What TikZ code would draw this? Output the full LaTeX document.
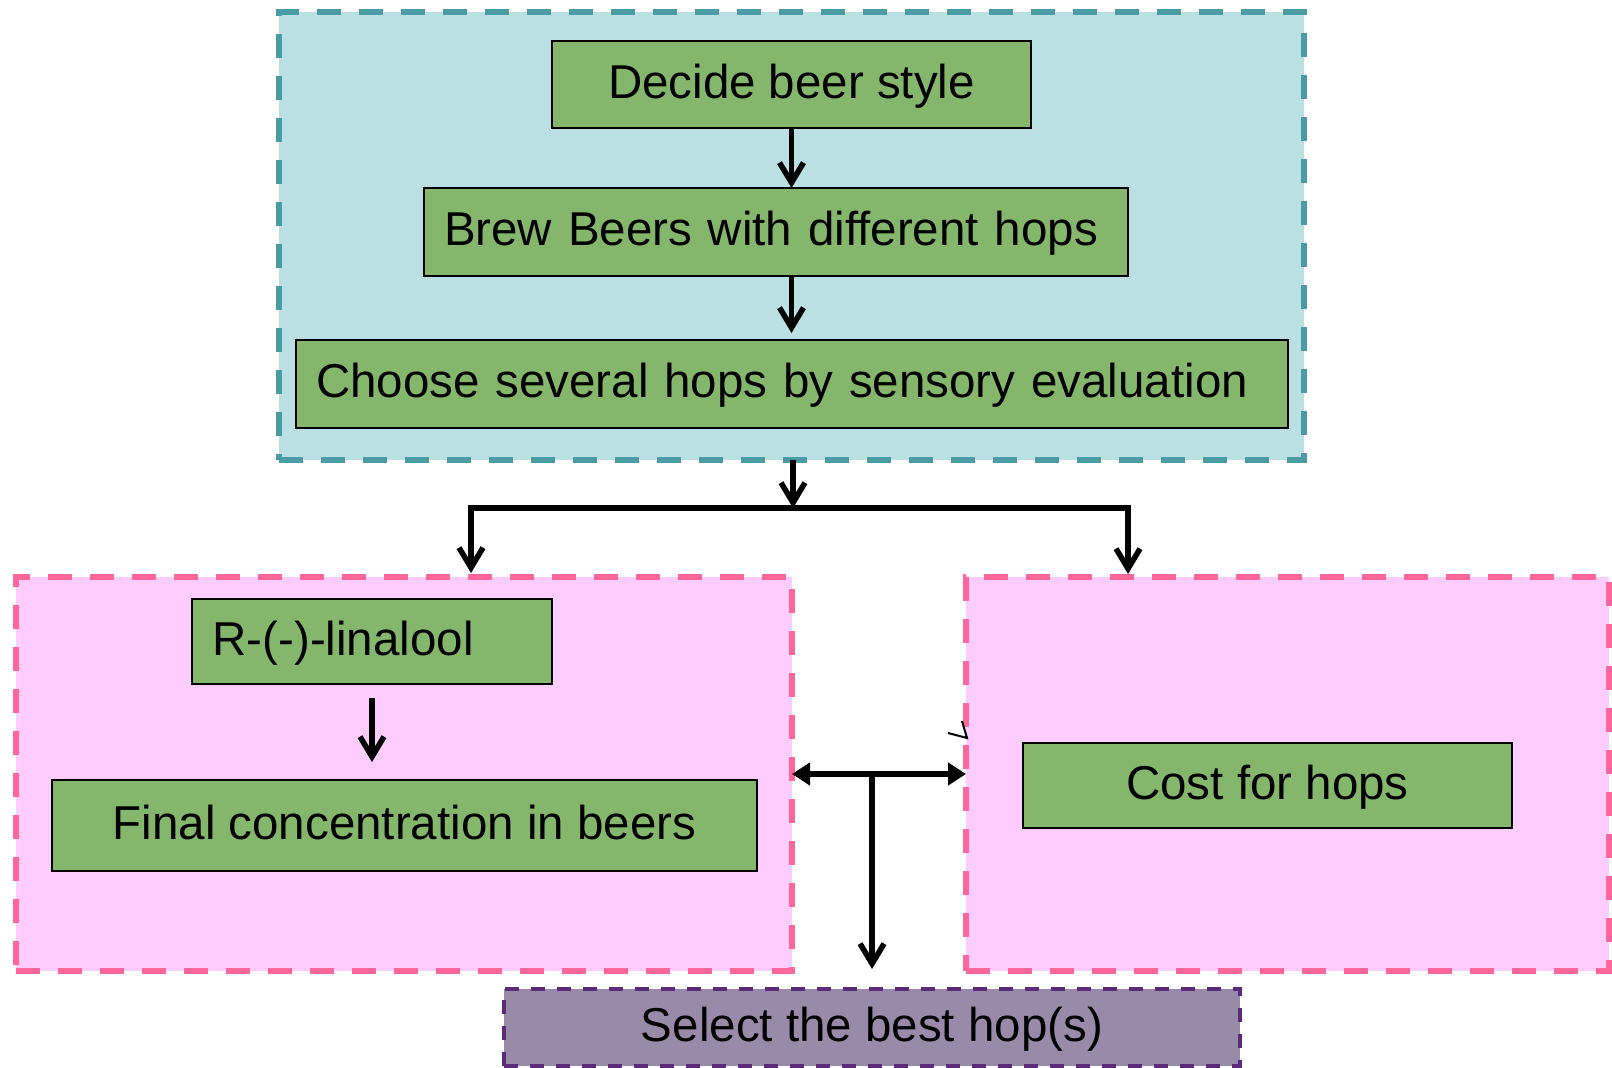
\documentclass[tikz,border=0pt]{standalone}
\usepackage{fontspec}
\setmainfont{Liberation Sans}
\usetikzlibrary{arrows.meta,calc}
\definecolor{tealfill}{HTML}{BAE0E3}
\definecolor{tealline}{HTML}{4A9BA3}
\definecolor{pinkfill}{HTML}{FFCCFF}
\definecolor{pinkline}{HTML}{FF6699}
\definecolor{boxgreen}{HTML}{84B76B}
\definecolor{purfill}{HTML}{998AAA}
\definecolor{purline}{HTML}{5B2A78}
\begin{document}
\begin{tikzpicture}[x=1pt,y=-1pt,
  txt/.style={font=\fontsize{47.5}{57}\selectfont, text height=35pt, text depth=8pt},
  greenbox/.style={txt, draw=black, line width=2pt, fill=boxgreen, inner sep=0pt, outer sep=0pt},
  leftbox/.style={greenbox, align=left, text width=#1},
  teal/.style={draw=tealline, fill=tealfill, line width=6pt, dash pattern=on 24pt off 18pt, inner sep=0pt, outer sep=0pt},
  pinkc/.style={draw=pinkline, fill=pinkfill, line width=5.5pt, dash pattern=on 24pt off 18pt, inner sep=0pt, outer sep=0pt},
  purc/.style={txt, draw=purline, fill=purfill, line width=4pt, dash pattern=on 14pt off 12pt, inner sep=0pt, outer sep=0pt},
  arr/.style={line width=5.5pt, -{Straight Barb[length=20pt,width=24pt,line width=5.5pt]}},
  dbl/.style={line width=6pt, {Triangle[length=18pt,width=22pt]}-{Triangle[length=18pt,width=22pt]}},
]
\useasboundingbox (0,0) rectangle (1612,1068);
\fill[white] (0,0) rectangle (1612,1068);

% containers
\node[teal, minimum width=1025pt, minimum height=448pt] (teal) at (791.5,236) {};
\node[pinkc, minimum width=776pt, minimum height=394pt] (pinkL) at (404,774) {};
\node[pinkc, minimum width=643pt, minimum height=394pt] (pinkR) at (1287.5,774) {};

% boxes
\node[greenbox, minimum width=479pt, minimum height=87pt] (decide) at (791.5,84.5) {Decide beer style};
\node[leftbox=664pt, minimum width=704pt, minimum height=88pt] (brew) at (776,232) {Brew Beers with different hops};
\node[leftbox=952pt, minimum width=992pt, minimum height=88pt] (choose) at (792,384) {Choose several hops by sensory evaluation};
\node[leftbox=319pt, minimum width=360pt, minimum height=85pt] (lin) at (372,641.5) {R-(-)-linalool};
\node[greenbox, minimum width=705pt, minimum height=91pt] (final) at (404.5,825.5) {Final concentration in beers};
\node[greenbox, minimum width=489pt, minimum height=85pt] (cost) at (1267.5,785.5) {Cost for hops};
\node[purc, minimum width=736pt, minimum height=77pt] (select) at (872,1027.5) {Select the best hop(s)};

% connectors
\draw[arr] (decide.south) -- (decide.south |- brew.north);
\draw[arr] (brew.south -| decide.south) -- (decide.south |- choose.north) [shorten >=7pt];
\coordinate (j) at (793,508);
\coordinate (tl) at (471,508);
\coordinate (tr) at (1128,508);
\draw[arr] (teal.south -| j) -- (j);
\draw[arr] (j) -| ($(tl |- pinkL.north)+(0,-4)$);
\draw[arr] (j) -| ($(tr |- pinkR.north)+(0,-3)$);
\draw[arr, shorten <=14pt, shorten >=18pt] (lin.south) -- (lin.south |- final.north);
\draw[dbl] (pinkL.east) -- (pinkR.west);
\coordinate (t) at ($(pinkL.east)!0.46!(pinkR.west)$);
\draw[arr, shorten >=20pt] ($(t)+(0,-2)$) -- (t |- select.north);

% stray tip
\draw[line width=2pt] (948,733) -- (967,738) -- (962,721);
\end{tikzpicture}
\end{document}
